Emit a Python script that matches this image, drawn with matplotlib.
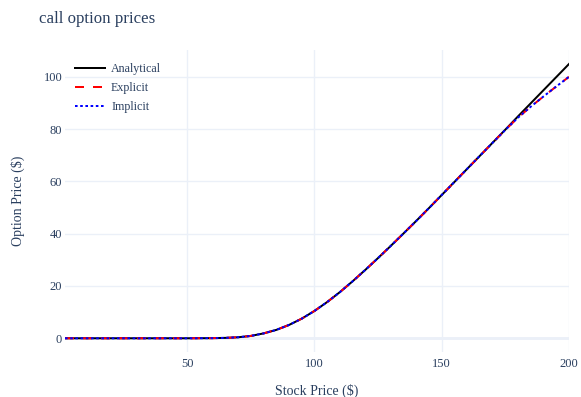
import matplotlib
matplotlib.use('Agg')
import matplotlib.pyplot as plt

plt.rcParams['font.family'] = ['Liberation Serif', 'DejaVu Serif']

# stock price grid and option values
stock_price = [2, 10, 20, 30, 40, 50, 60, 65, 70, 75, 80, 85, 90, 95, 100,
               105, 110, 115, 120, 125, 130, 135, 140, 145, 150, 155, 160,
               165, 170, 175, 180, 185, 190, 195, 200]
analytical = [0, 0, 0, 0, 0, 0, 0.05, 0.15, 0.38, 0.9, 1.86, 3.2, 5.09, 7.5,
              10.45, 13.86, 17.66, 21.8, 26.17, 30.7, 35.35, 40.1, 44.9,
              49.8, 54.8, 59.8, 64.8, 69.8, 74.8, 79.8, 84.9, 89.9, 94.9,
              99.9, 104.9]
explicit = [0, 0, 0, 0, 0, 0, 0.05, 0.15, 0.38, 0.9, 1.86, 3.2, 5.09, 7.5,
            10.45, 13.86, 17.66, 21.8, 26.17, 30.7, 35.35, 40.1, 44.9,
            49.8, 54.8, 59.8, 64.8, 69.8, 74.8, 79.7, 84.4, 88.6, 92.5,
            96.3, 100.0]
implicit = [0, 0, 0, 0, 0, 0, 0.05, 0.15, 0.38, 0.9, 1.86, 3.2, 5.09, 7.5,
            10.45, 13.86, 17.66, 21.8, 26.17, 30.7, 35.35, 40.1, 44.9,
            49.8, 54.8, 59.8, 64.8, 69.8, 74.8, 79.7, 84.4, 88.6, 92.5,
            96.3, 100.0]

text_col = '#2a3f5f'
grid_col = '#EBF0F8'

W, H = 581, 397
fig = plt.figure(figsize=(W / 100, H / 100), dpi=100)
ax = fig.add_axes([65 / W, 45 / H, 504 / W, 302 / H])

lw = 1.44
ax.plot(stock_price, analytical, color='black', lw=lw, label='Analytical')
ax.plot(stock_price, explicit, color='red', lw=lw, dashes=(4.5, 4.5), label='Explicit')
ax.plot(stock_price, implicit, color='blue', lw=lw, dashes=(1.3, 1.3), label='Implicit')

ax.set_xlim(2, 200)
ax.set_ylim(-5.25, 110.25)
ax.set_xticks([50, 100, 150, 200])
ax.set_yticks([0, 20, 40, 60, 80, 100])
ax.grid(True, color=grid_col, lw=1)
ax.axhline(0, color=grid_col, lw=2, zorder=0)
ax.set_axisbelow(True)
for s in ax.spines.values():
    s.set_visible(False)
ax.tick_params(length=0, labelsize=9, labelcolor=text_col)
ax.tick_params(axis='x', pad=4)
ax.tick_params(axis='y', pad=2)

ax.set_xlabel('Stock Price ($)', fontsize=10, color=text_col, labelpad=10)
ax.set_ylabel('Option Price ($)', fontsize=10, color=text_col, labelpad=13)

fig.text(39 / W, 1 - 19 / H, 'call option prices', fontsize=12.2,
         color=text_col, va='center', ha='left')

leg = ax.legend(loc='upper left', bbox_to_anchor=(75 / W, 1 - 63 / H),
                bbox_transform=fig.transFigure, frameon=False, fontsize=8.64,
                handlelength=2.5, handletextpad=0.5, labelspacing=0.6,
                borderpad=0, borderaxespad=0)
for t in leg.get_texts():
    t.set_color(text_col)

fig.savefig('out.png', dpi=100)
